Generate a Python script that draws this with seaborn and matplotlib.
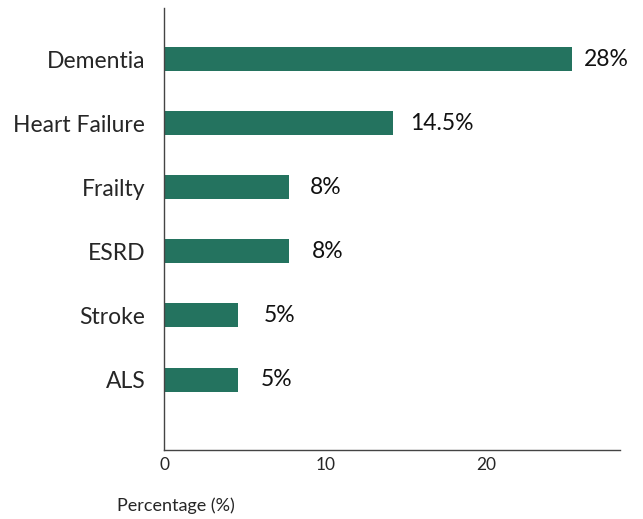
import matplotlib
matplotlib.use("Agg")
import matplotlib.pyplot as plt
import pandas as pd
import seaborn as sns

conditions = ["Dementia", "Heart Failure", "Frailty", "ESRD", "Stroke", "ALS"]
bar_values = [25.3, 14.2, 7.75, 7.75, 4.6, 4.6]
value_labels = ["28%", "14.5%", "8%", "8%", "5%", "5%"]

df = pd.DataFrame({"condition": conditions, "value": bar_values})

sns.set_style("white")
plt.rcParams["font.family"] = ["Lato", "DejaVu Sans"]

fig = plt.figure(figsize=(6.43, 5.19), dpi=100)
ax = fig.add_axes([164 / 643, 1 - 450 / 519, (620 - 164) / 643, (450 - 8) / 519])

sns.barplot(data=df, x="value", y="condition", color="#24735f", width=0.375,
            saturation=1, linewidth=0, ax=ax)

# label padding differs a little per bar in the original
pads = [12, 17, 21, 23, 26, 23]
for patch, lab, pad in zip(ax.patches, value_labels, pads):
    ax.annotate(lab, (patch.get_width(), patch.get_y() + patch.get_height() / 2),
                xytext=(pad, 0), textcoords="offset pixels",
                ha="left", va="center", fontsize=16.5, color="#111111")

ax.set_xlim(0, 28.3)
ax.set_ylim(6.1, -0.8)
ax.set_xticks([0, 10, 20])
ax.set_xlabel("")
ax.set_ylabel("")
ax.tick_params(axis="x", direction="in", length=4, labelsize=12.5, pad=5, color="#444444")
ax.tick_params(axis="y", length=0, labelsize=16.5, pad=13.5)
for s in ["top", "right"]:
    ax.spines[s].set_visible(False)
for s in ["left", "bottom"]:
    ax.spines[s].set_color("#444444")
    ax.spines[s].set_linewidth(1.0)

fig.text(176 / 643, 1 - 506 / 519, "Percentage (%)", ha="center", va="center", fontsize=13)

fig.savefig("out.png", dpi=100)
